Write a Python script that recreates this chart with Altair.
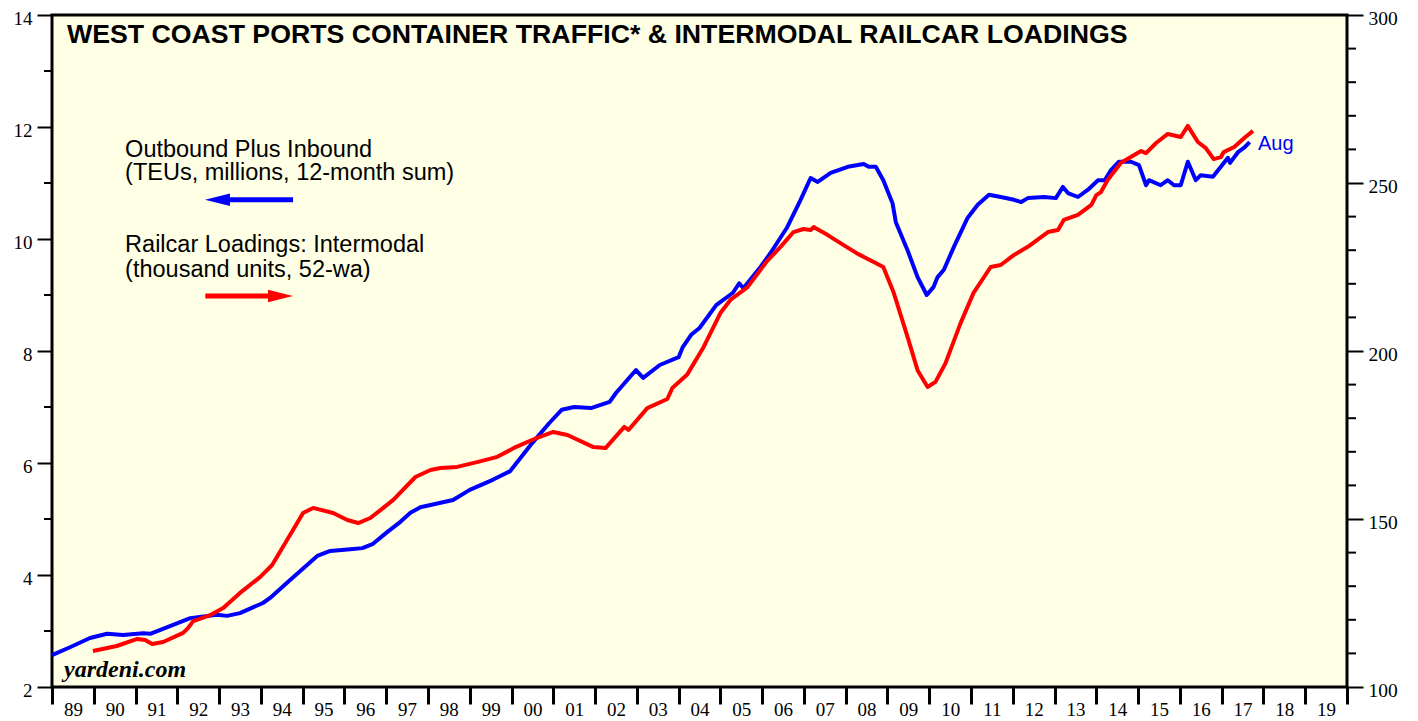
import altair as alt
import pandas as pd

# ---- data ----
blue_years = [1989.0, 1989.43, 1989.91, 1990.32, 1990.7, 1991.18, 1991.35, 1991.9, 1992.31, 1992.95,
              1993.19, 1993.5, 1994.05, 1994.22, 1994.7, 1995.35, 1995.66, 1996.14, 1996.43, 1996.67,
              1997.03, 1997.34, 1997.58, 1997.82, 1998.06, 1998.6, 1999.0, 1999.55, 1999.96, 2000.5,
              2000.9, 2001.2, 2001.5, 2001.9, 2002.35, 2002.5, 2002.98, 2003.15, 2003.55, 2004.0,
              2004.1, 2004.3, 2004.5, 2004.9, 2005.3, 2005.45, 2005.55, 2005.96, 2006.2, 2006.6,
              2006.92, 2007.16, 2007.33, 2007.64, 2008.05, 2008.43, 2008.55, 2008.72, 2008.9, 2009.12,
              2009.2, 2009.48, 2009.72, 2009.94, 2010.1, 2010.2, 2010.35, 2010.59, 2010.92, 2011.16,
              2011.43, 2011.71, 2012.03, 2012.2, 2012.36, 2012.75, 2013.03, 2013.2, 2013.32, 2013.56,
              2013.8, 2014.04, 2014.2, 2014.35, 2014.54, 2014.83, 2015.02, 2015.19, 2015.26, 2015.54,
              2015.71, 2015.86, 2016.02, 2016.19, 2016.38, 2016.5, 2016.79, 2017.15, 2017.2, 2017.39,
              2017.54, 2017.67]
blue_teu = [2.57, 2.71, 2.875, 2.95, 2.93, 2.96, 2.95, 3.11, 3.23, 3.29,
            3.27, 3.32, 3.50, 3.59, 3.91, 4.34, 4.43, 4.46, 4.48, 4.55,
            4.77, 4.95, 5.11, 5.21, 5.25, 5.34, 5.52, 5.70, 5.85, 6.36,
            6.71, 6.95, 7.00, 6.98, 7.09, 7.25, 7.66, 7.52, 7.75, 7.89,
            8.07, 8.29, 8.41, 8.82, 9.04, 9.21, 9.12, 9.50, 9.75, 10.21,
            10.70, 11.09, 11.02, 11.18, 11.29, 11.34, 11.29, 11.29, 11.05, 10.64,
            10.30, 9.80, 9.32, 9.00, 9.14, 9.32, 9.45, 9.86, 10.38, 10.61,
            10.79, 10.75, 10.70, 10.66, 10.73, 10.75, 10.73, 10.93, 10.82, 10.75,
            10.88, 11.05, 11.05, 11.23, 11.38, 11.38, 11.32, 10.96, 11.05, 10.96,
            11.05, 10.96, 10.96, 11.38, 11.05, 11.14, 11.11, 11.45, 11.36, 11.55,
            11.63, 11.73]

red_years = [1989.98, 1990.55, 1991.04, 1991.23, 1991.4, 1991.66, 1992.14, 1992.26, 1992.38, 1992.79,
             1993.1, 1993.5, 1993.98, 1994.27, 1994.63, 1995.01, 1995.25, 1995.73, 1996.07, 1996.33,
             1996.62, 1996.93, 1997.17, 1997.7, 1998.06, 1998.3, 1998.7, 1999.2, 1999.66, 2000.1,
             2000.6, 2001.0, 2001.34, 2001.96, 2002.25, 2002.7, 2002.8, 2003.25, 2003.73, 2003.85,
             2004.2, 2004.6, 2005.0, 2005.24, 2005.65, 2006.1, 2006.44, 2006.75, 2006.99, 2007.16,
             2007.23, 2007.57, 2007.95, 2008.29, 2008.67, 2008.9, 2009.15, 2009.48, 2009.72, 2009.96,
             2010.15, 2010.39, 2010.75, 2011.06, 2011.47, 2011.71, 2012.03, 2012.36, 2012.84, 2013.08,
             2013.22, 2013.56, 2013.88, 2014.0, 2014.11, 2014.27, 2014.59, 2015.07, 2015.19, 2015.43,
             2015.71, 2016.02, 2016.19, 2016.43, 2016.62, 2016.81, 2016.98, 2017.05, 2017.3, 2017.54,
             2017.75]
red_units = [110.7, 112.2, 114.3, 114.0, 112.8, 113.4, 116.1, 117.6, 119.6, 121.4,
             123.5, 128.0, 132.7, 136.3, 143.8, 151.8, 153.3, 151.8, 149.7, 148.8,
             150.3, 153.3, 155.7, 162.5, 164.6, 165.2, 165.5, 167.0, 168.5, 171.4,
             174.1, 175.9, 175.0, 171.4, 171.1, 177.4, 176.5, 183.0, 185.7, 189.0,
             192.9, 201.2, 211.3, 215.2, 219.0, 226.5, 231.0, 235.4, 236.3, 236.0,
             236.9, 234.5, 231.5, 228.9, 226.5, 225.0, 217.3, 204.2, 194.3, 189.3,
             190.8, 196.4, 208.3, 217.3, 225.0, 225.6, 228.6, 231.0, 235.4, 236.0,
             239.0, 240.5, 243.5, 246.4, 247.3, 250.9, 256.0, 259.5, 258.9, 261.9,
             264.6, 263.7, 267.0, 262.2, 260.4, 257.1, 257.7, 259.2, 260.7, 263.4,
             265.5]

year_ticks = list(range(1989, 2021))
left_ticks = [2, 4, 6, 8, 10, 12, 14]
left_minor = [3, 5, 7, 9, 11, 13]
right_ticks = [100, 150, 200, 250, 300]
right_minor = [110, 120, 130, 140, 160, 170, 180, 190, 210, 220, 230, 240, 260, 270, 280, 290]

title_text = "WEST COAST PORTS CONTAINER TRAFFIC* & INTERMODAL RAILCAR LOADINGS"
blue_legend = ["Outbound Plus Inbound", "(TEUs, millions, 12-month sum)"]
red_legend = ["Railcar Loadings: Intermodal", "(thousand units, 52-wa)"]

W, H = 1295, 672

blue_df = pd.DataFrame({"t": blue_years, "v": blue_teu})
red_df = pd.DataFrame({"t": red_years, "v": red_units})

XS = alt.Scale(domain=[1989, 2020], nice=False, zero=False)
YL = alt.Scale(domain=[2, 14], nice=False, zero=False)
YR = alt.Scale(domain=[100, 300], nice=False, zero=False)

serif = "Liberation Serif"
sans = "Liberation Sans"

x_axis = alt.Axis(values=year_ticks, title=None, grid=False, domain=False, orient="bottom",
                  tickSize=17, tickWidth=3, tickColor="black",
                  labelExpr="datum.value < 2020 ? slice('0' + toString(datum.value % 100), -2) : ''",
                  labelOffset=W / 31 / 2, labelAlign="center", labelPadding=-4,
                  labelFont=serif, labelFontSize=19, labelColor="black",
                  labelFlush=False, labelOverlap=False, labelBound=False)


def X(field="t"):
    return alt.X(f"{field}:Q", scale=XS, axis=x_axis)


blue = alt.Chart(blue_df).mark_line(color="#0000FF", strokeWidth=4, strokeJoin="round").encode(
    x=X(),
    y=alt.Y("v:Q", scale=YL, axis=alt.Axis(orient="left", values=left_ticks, title=None, grid=False,
                                            domain=False, tickSize=15, tickWidth=2, tickColor="black",
                                            labelPadding=5, labelOffset=3, labelFont=serif, labelFontSize=19,
                                            labelColor="black", labelFlush=False, labelOverlap=False)),
)

red = alt.Chart(red_df).mark_line(color="#FF0000", strokeWidth=4, strokeJoin="round").encode(
    x=X(),
    y=alt.Y("v:Q", scale=YR, axis=alt.Axis(orient="right", values=right_ticks, title=None, grid=False,
                                            domain=False, tickSize=16, tickWidth=2, tickColor="black",
                                            labelPadding=5, labelOffset=3, labelFont=serif, labelFontSize=19.5,
                                            labelColor="black", labelFlush=False, labelOverlap=False)),
)

minor_l = alt.Chart(pd.DataFrame({"m": left_minor})).mark_rule(color="black", strokeWidth=2).encode(
    y=alt.Y("m:Q", scale=YL, axis=None), x=alt.value(-8), x2=alt.value(0))
minor_r = alt.Chart(pd.DataFrame({"m": right_minor})).mark_rule(color="black", strokeWidth=2).encode(
    y=alt.Y("m:Q", scale=YR, axis=None), x=alt.value(W), x2=alt.value(W + 9))


def text_layer(df, **kw):
    return alt.Chart(df).mark_text(align="left", baseline="alphabetic", **kw).encode(
        x=X(),
        y=alt.Y("v:Q", scale=YL, axis=None),
        text="label:N")


title = text_layer(pd.DataFrame({"t": [1989.36], "v": [13.5], "label": [title_text]}),
                   font=sans, fontSize=26.7, fontWeight="bold", color="black")
legend = text_layer(pd.DataFrame({"t": [1990.75] * 4, "v": [11.47, 11.05, 9.77, 9.33],
                                  "label": blue_legend + red_legend}),
                    font=sans, fontSize=23.5, color="black")
aug = text_layer(pd.DataFrame({"t": [2017.87], "v": [11.59], "label": ["Aug"]}),
                 font=sans, fontSize=20, color="#0000FF")
yard = text_layer(pd.DataFrame({"t": [1989.29], "v": [2.18], "label": ["yardeni.com"]}),
                  font=serif, fontSize=24, fontWeight="bold", fontStyle="italic", color="black")

# legend arrows
shaft_df = pd.DataFrame({"t": [1993.14, 1992.67], "t2": [1994.77, 1994.34], "v": [10.70, 8.98],
                         "c": ["b", "r"]})
shafts = alt.Chart(shaft_df).mark_rule(strokeWidth=5).encode(
    x=X(), x2="t2:Q",
    y=alt.Y("v:Q", scale=YL, axis=None),
    color=alt.Color("c:N", scale=alt.Scale(domain=["b", "r"], range=["#0000FF", "#FF0000"]), legend=None))
head_b = alt.Chart(pd.DataFrame({"t": [1992.96], "v": [10.70]})).mark_point(
    shape="M-1,0L1,-0.5L1,0.5Z", size=625, filled=True, opacity=1, color="#0000FF").encode(
    x=X(), y=alt.Y("v:Q", scale=YL, axis=None))
head_r = alt.Chart(pd.DataFrame({"t": [1994.47], "v": [8.98]})).mark_point(
    shape="M1,0L-1,-0.5L-1,0.5Z", size=625, filled=True, opacity=1, color="#FF0000").encode(
    x=X(), y=alt.Y("v:Q", scale=YL, axis=None))

chart = alt.layer(
    blue, red, minor_l, minor_r, title, legend, aug, yard, shafts, head_b, head_r
).resolve_scale(y="independent", color="independent").properties(
    width=W, height=H,
    autosize=alt.AutoSizeParams(type="none"),
    padding={"left": 44, "top": 7, "right": 63, "bottom": 31},
).configure(
    background="white",
    view=alt.ViewConfig(fill="#FFFFE6", stroke="black", strokeWidth=3),
)

chart.save("out.html", embed_options={"renderer": "svg", "actions": False})
